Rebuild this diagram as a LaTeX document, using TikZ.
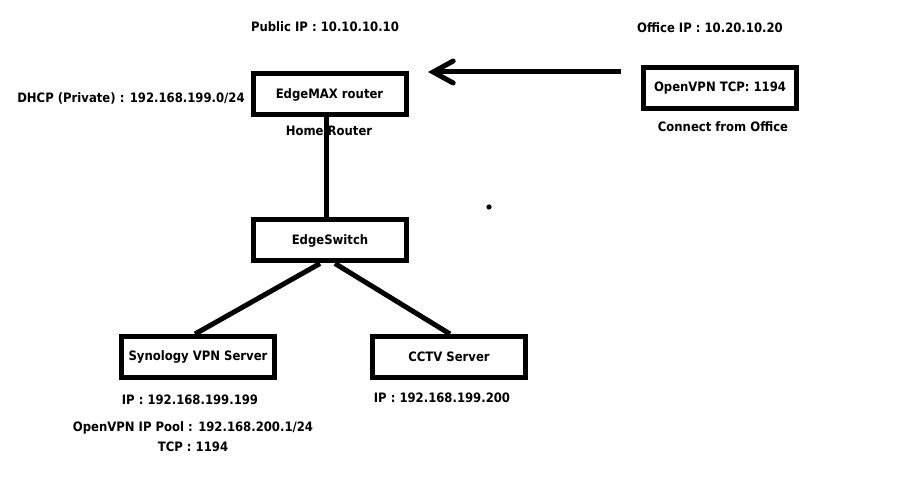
\documentclass[tikz,border=0pt]{standalone}
\usepackage{fontspec}
\setmainfont{DejaVu Sans Condensed}
\usetikzlibrary{arrows.meta}
\begin{document}
\begin{tikzpicture}[x=1bp,y=-1bp,
  every node/.style={font=\fontsize{13}{15}\selectfont\bfseries, inner sep=0pt},
  devbox/.style={draw, line width=5bp, minimum width=153bp, minimum height=41bp},
  wire/.style={line width=5bp},
  lbl/.style={}]
\useasboundingbox (0,0) rectangle (919,486);
% boxes
\node[devbox] (router) at (329.5,94.5) {EdgeMAX router};
\node[devbox] (switch) at (330,240.5) {EdgeSwitch};
\node[devbox] (syno) at (198,357) {Synology VPN Server};
\node[devbox] (cctv) at (449,357) {CCTV Server};
\node[devbox] (office) at (720,88) {OpenVPN TCP: 1194};
% labels
\node[lbl] (pubip) at (325,27) {Public IP : 10.10.10.10};
\node[lbl] (dhcp) at (131,98) {DHCP (Private) : 192.168.199.0/24};
\node[lbl] (home) at (329,131) {Home Router};
\node[lbl] (offip) at (710,28) {Office IP : 10.20.10.20};
\node[lbl] (conn) at (723,127) {Connect from Office};
\node[lbl] (synoip) at (190,400) {IP : 192.168.199.199};
\node[lbl] (pool) at (193,428) {OpenVPN IP Pool : 192.168.200.1/24};
\node[lbl] (tcp) at (193,447) {TCP : 1194};
\node[lbl] (cctvip) at (442,398) {IP : 192.168.199.200};
% connectors
\draw[wire] ([xshift=-3.5bp]router.south) -- ([xshift=-4bp]switch.north);
\draw[wire] ([xshift=-10bp]switch.south) -- ([xshift=-3bp]syno.north);
\draw[wire] ([xshift=5bp]switch.south) -- ([xshift=1bp]cctv.north);
\coordinate (astart) at (621,72);
\coordinate (aend) at (428,72);
\draw[wire, -{Straight Barb[length=20bp,width=22bp,line cap=round]}] (astart) -- (aend);
% dot
\fill (489,207) circle (2.6bp);
\end{tikzpicture}
\end{document}
